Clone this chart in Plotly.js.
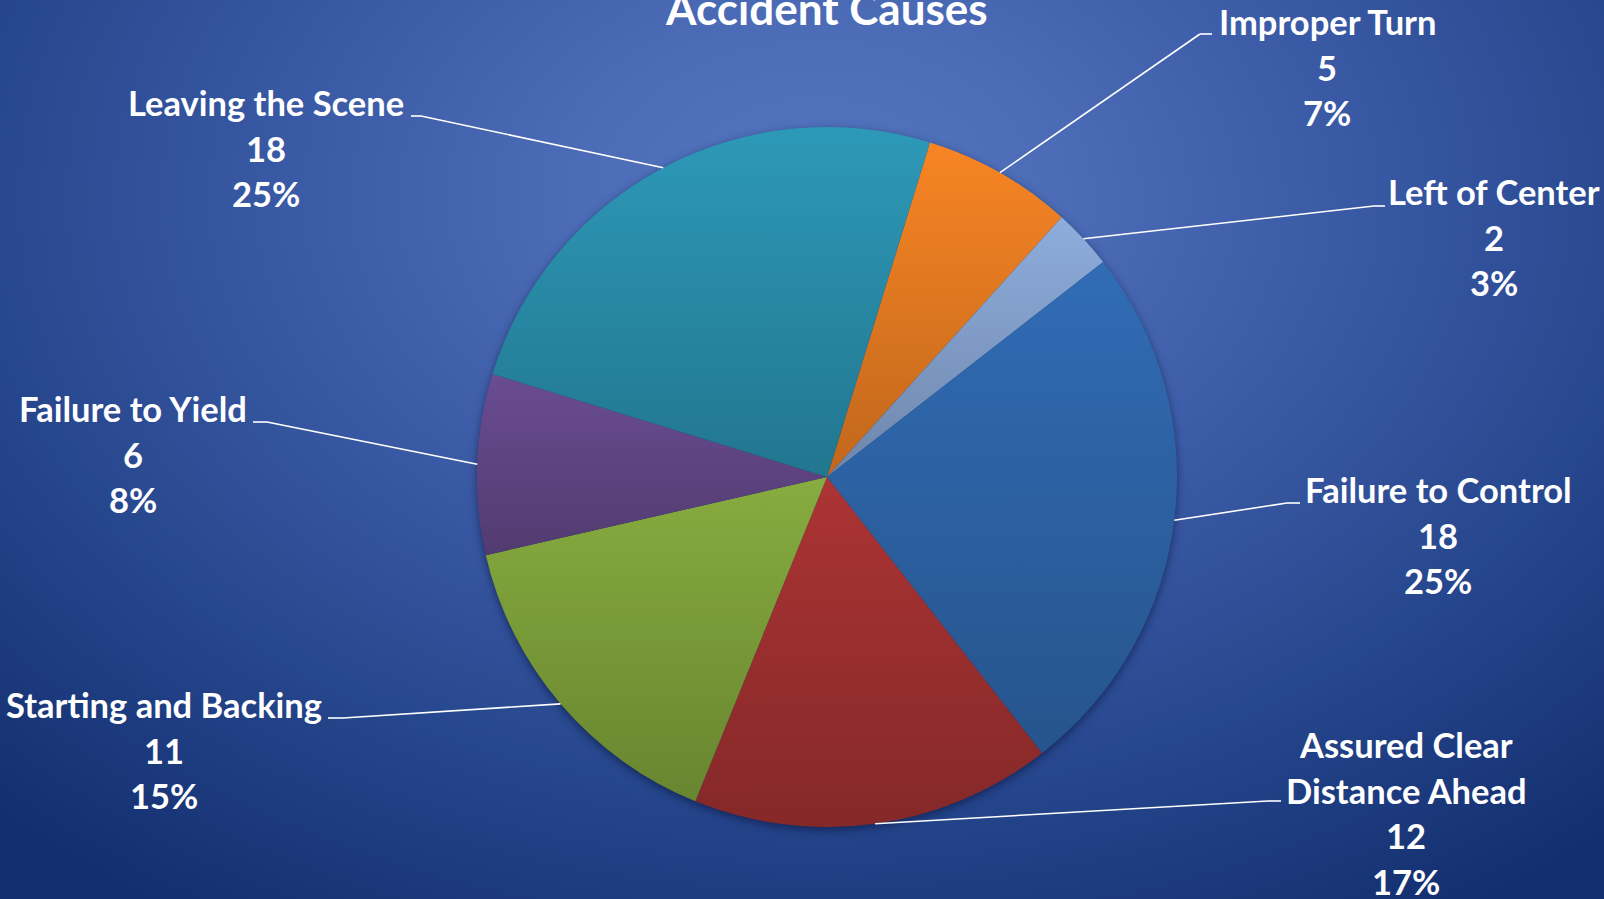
<!DOCTYPE html>
<html>
<head>
<meta charset="utf-8">
<script src="https://cdn.plot.ly/plotly-3.0.1.min.js"></script>
<style>
  html, body { margin: 0; padding: 0; }
  #chart {
    width: 1604px; height: 899px;
    background: radial-gradient(ellipse 75% 95% at 51% 22%, #5475BF 0%, #4C6CB7 20%, #3A59A4 45%, #26468D 70%, #122E6E 100%);
  }
  #chart .pielayer { filter: drop-shadow(0px 3px 4px rgba(5, 15, 50, 0.55)); }
</style>
</head>
<body>
<div id="chart"></div>
<script>
// ---- data ----
const categories = ['Improper Turn', 'Left of Center', 'Failure to Control', 'Assured Clear Distance Ahead', 'Starting and Backing', 'Failure to Yield', 'Leaving the Scene'];
const counts = [5, 2, 18, 12, 11, 6, 18];
const sliceColors = ['#EA7D22', '#86A3D0', '#2E66AB', '#A23131', '#7FA23B', '#644889', '#2A90AE'];
const chartTitle = 'Accident Causes';

// ---- layout / style ----
const W = 1604, H = 899;
const pieDomain = { x: [477 / W, 1177 / W], y: [72 / H, 772 / H] };
const rotationDeg = 17.1;
const labelFont = 34.5, lineGap = 45.5, titleFont = 44;
// label anchor positions (pixels): text centre x, first baseline, elbow point, line end
const labelLayout = [
  { cx: 1327, base: 35,  elbow: [1200, 34],  end: [1212, 34] },
  { cx: 1494, base: 205, elbow: [1374, 206], end: [1385, 206] },
  { cx: 1438, base: 503, elbow: [1287, 503], end: [1300, 503] },
  { cx: 1406, base: 758, elbow: [1268, 801], end: [1281, 801] },
  { cx: 164,  base: 718, elbow: [343, 718],  end: [328, 718] },
  { cx: 133,  base: 422, elbow: [267, 422],  end: [253, 422] },
  { cx: 266,  base: 116, elbow: [421, 116],  end: [411, 116] }
];

const px = x => x / W;
const py = y => 1 - y / H;

function wrap(label) {
  if (label.length <= 22) return [label];
  const words = label.split(' ');
  let best = null, bestDiff = 1e9;
  for (let k = 1; k < words.length; k++) {
    const a = words.slice(0, k).join(' '), b = words.slice(k).join(' ');
    const d = Math.abs(a.length - b.length);
    if (d < bestDiff) { bestDiff = d; best = [a, b]; }
  }
  return best;
}

const total = counts.reduce((s, v) => s + v, 0);
const pieCx = (pieDomain.x[0] + pieDomain.x[1]) / 2 * W;
const pieCy = (1 - (pieDomain.y[0] + pieDomain.y[1]) / 2) * H;
const pieR = Math.min((pieDomain.x[1] - pieDomain.x[0]) * W, (pieDomain.y[1] - pieDomain.y[0]) * H) / 2;

const annotations = [];
const shapes = [];
let cum = 0;
counts.forEach((v, i) => {
  const midDeg = rotationDeg + (cum + v / 2) / total * 360;
  cum += v;
  const a = midDeg * Math.PI / 180;
  const sx = pieCx + pieR * Math.sin(a), sy = pieCy - pieR * Math.cos(a);
  const L = labelLayout[i];
  shapes.push({ type: 'line', xref: 'paper', yref: 'paper', x0: px(sx), y0: py(sy), x1: px(L.elbow[0]), y1: py(L.elbow[1]), line: { color: '#FFFFFF', width: 1.6 } });
  shapes.push({ type: 'line', xref: 'paper', yref: 'paper', x0: px(L.elbow[0]), y0: py(L.elbow[1]), x1: px(L.end[0]), y1: py(L.end[1]), line: { color: '#FFFFFF', width: 1.6 } });
  const lines = wrap(categories[i]).concat([String(v), Math.round(v / total * 100) + '%']);
  lines.forEach((t, j) => {
    const base = L.base + j * lineGap;
    annotations.push({
      xref: 'paper', yref: 'paper', x: px(L.cx), y: py(base - 0.39 * labelFont),
      xanchor: 'center', yanchor: 'middle', showarrow: false, text: t,
      font: { family: 'Lato, sans-serif', size: labelFont, color: '#FFFFFF', weight: 700 }
    });
  });
});

const data = [{
  type: 'pie',
  labels: categories,
  values: counts,
  sort: false,
  direction: 'clockwise',
  rotation: rotationDeg,
  domain: pieDomain,
  marker: { colors: sliceColors, line: { width: 0 } },
  textinfo: 'none',
  hoverinfo: 'none',
  showlegend: false
}];

const layout = {
  width: W, height: H,
  margin: { l: 0, r: 0, t: 0, b: 0 },
  paper_bgcolor: 'rgba(0,0,0,0)',
  plot_bgcolor: 'rgba(0,0,0,0)',
  title: {
    text: chartTitle,
    x: 0.5155, xanchor: 'center',
    y: 1 - (27 - 0.39 * titleFont) / H, yref: 'container', yanchor: 'middle',
    font: { family: 'Lato, sans-serif', size: titleFont, color: '#FFFFFF', weight: 700 }
  },
  showlegend: false,
  annotations: annotations,
  shapes: shapes
};

function shade(hex, f) {
  const n = parseInt(hex.slice(1), 16);
  const r = (n >> 16) & 255, g = (n >> 8) & 255, b = n & 255;
  const c = x => Math.max(0, Math.min(255, Math.round(x * f)));
  return 'rgb(' + c(r) + ',' + c(g) + ',' + c(b) + ')';
}

Plotly.newPlot('chart', data, layout, { staticPlot: true }).then(gd => {
  const svg = gd.querySelector('svg.main-svg');
  const NS = 'http://www.w3.org/2000/svg';
  let defs = svg.querySelector('defs');
  if (!defs) { defs = document.createElementNS(NS, 'defs'); svg.insertBefore(defs, svg.firstChild); }
  gd.querySelectorAll('g.slice path.surface').forEach((p, i) => {
    const col = sliceColors[i % sliceColors.length];
    const lg = document.createElementNS(NS, 'linearGradient');
    lg.setAttribute('id', 'sliceGrad' + i);
    lg.setAttribute('x1', '0'); lg.setAttribute('y1', '0');
    lg.setAttribute('x2', '0'); lg.setAttribute('y2', '1');
    [[0, 1.06], [1, 0.82]].forEach(([o, f]) => {
      const s = document.createElementNS(NS, 'stop');
      s.setAttribute('offset', o);
      s.setAttribute('stop-color', shade(col, f));
      lg.appendChild(s);
    });
    defs.appendChild(lg);
    p.style.fill = 'url(#sliceGrad' + i + ')';
  });
});
</script>
</body>
</html>
